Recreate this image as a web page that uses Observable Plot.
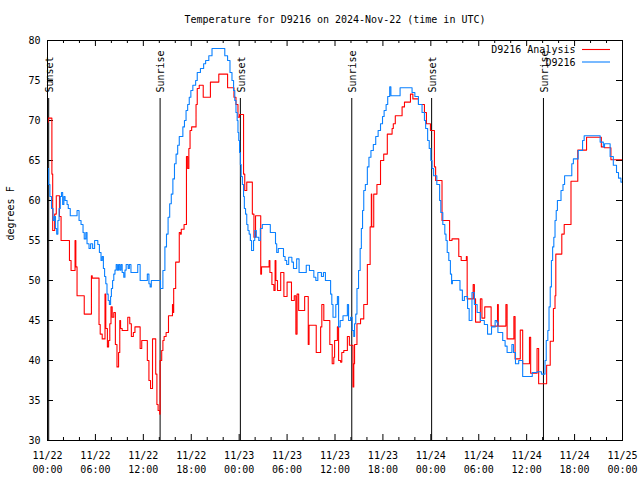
<!DOCTYPE html>
<html><head><meta charset="utf-8">
<script src="https://cdn.jsdelivr.net/npm/d3@7"></script>
<script src="https://cdn.jsdelivr.net/npm/@observablehq/plot@0.6"></script>
<style>body{margin:0;background:#fff}</style>
</head><body><div id="chart"></div>
<script>
const titleText = "Temperature for D9216 on 2024-Nov-22 (time in UTC)";
const yLabel = "degrees F";
const seriesNames = ["D9216 Analysis", "D9216"];
const seriesColors = ["#ff0000", "#0a80ff"];
const startUTC = Date.UTC(2024, 10, 22);
const spanHours = 72;
const yTicks = [30, 35, 40, 45, 50, 55, 60, 65, 70, 75, 80];
const sunHours = [0.15, 14.1, 24.15, 38.1, 48.1, 62.1];
const sunLabels = ["Sunset", "Sunrise", "Sunset", "Sunrise", "Sunset", "Sunrise"];

// [hours since 2024-11-22 00:00 UTC, degrees F]
const analysis = [[0,69.8],[0.1,70.3],[0.55,63.3],[0.65,56.25],[0.9,58.3],[1.1,60.6],[1.5,58],[1.7,55],[2.75,52.5],[2.95,51.25],[3.45,55],[3.55,51.7],[3.7,48.1],[4.6,45.8],[5.5,50.6],[5.6,50.3],[6.45,44.5],[6.6,43.3],[6.85,42.7],[7.2,48.3],[7.3,44],[7.5,41.7],[7.65,42.5],[7.8,44.6],[7.95,46.7],[8.1,45.4],[8.3,46],[8.5,42],[8.7,39.2],[8.9,41],[9.05,45],[9.15,44],[9.35,43.75],[10.05,45.4],[10.3,44.6],[10.5,43],[10.75,43.5],[10.95,44.2],[11.6,41.5],[11.8,42.5],[12.5,40],[12.7,37.5],[12.9,36.5],[13.15,42.7],[13.55,38.3],[13.7,34.5],[13.85,33.75],[14.05,33.3],[14.1,40],[14.3,41.25],[14.45,42.5],[14.6,43],[14.85,43.5],[15.15,45.6],[15.65,47],[15.75,46],[15.8,49],[16.05,52.3],[16.5,56],[16.65,55.8],[16.75,56.4],[17.1,57],[17.4,65.5],[17.55,64],[17.7,66.5],[17.85,68.75],[18.05,69.2],[18.6,72],[18.75,74],[19.0,74.4],[19.5,72.9],[20.4,74.8],[21.45,75.8],[22.55,74.1],[23.35,72.9],[23.6,72],[23.85,70.4],[24.05,70.75],[24.55,63.3],[24.7,61.25],[24.95,62.3],[25.65,58.3],[25.85,55.4],[26.05,58.1],[26.7,50.8],[26.8,51.7],[27.75,52.5],[27.85,51],[28.1,49.5],[28.35,48.75],[28.5,52.5],[28.6,50],[28.8,48.75],[29.2,51],[29.6,48],[30.0,49.8],[30.55,47.5],[30.9,48.1],[31.1,43.3],[31.25,48.3],[31.45,46.25],[32.2,48],[32.65,42],[32.75,44.4],[33.65,41],[34.2,44.2],[34.35,47],[34.6,45],[35.35,42],[35.65,39.6],[35.85,40.4],[35.95,42.5],[36.3,44.2],[36.45,40],[36.7,39.8],[36.85,41],[37.1,41.25],[37.55,43],[37.8,41.9],[38.25,36.7],[38.35,39.6],[38.45,42],[38.75,44.6],[39.2,45.2],[39.6,47],[40.05,52],[40.4,56.7],[40.55,60.8],[40.6,56.7],[40.85,60.8],[41.25,62],[41.7,65],[42.1,65.8],[42.55,68.3],[43.15,69],[43.3,69.6],[43.55,70.6],[44.4,71.7],[44.7,72.3],[45.45,73.3],[45.75,72.7],[46.45,72],[47.2,71],[47.45,69.6],[47.95,68.75],[48.45,64.2],[48.6,62.5],[49.4,57.5],[50.35,55],[50.65,55.2],[51.5,53],[51.8,52.5],[52.45,53],[52.55,47.7],[53.3,49.5],[53.45,47.7],[53.6,44.8],[54.2,47.7],[54.4,45.3],[54.75,46.7],[55.55,44.3],[56.35,47],[56.45,44.3],[57.4,47],[57.55,42.7],[58.4,45.5],[58.55,40.2],[59.2,43.8],[59.5,39.6],[60.35,42.9],[60.5,38.4],[61.3,41.5],[61.5,37.1],[62.5,39.4],[62.95,42.4],[63.35,46.5],[63.55,48.1],[63.65,53.3],[64.4,55.8],[64.7,57],[65.55,62.4],[66.4,66.3],[67.5,67.9],[69.35,66.7],[69.75,66.6],[70.55,65.1],[72,65.1]];

const observed = [[0,64],[0.15,62],[0.3,60.5],[0.5,59],[0.7,57.5],[0.85,58],[1.0,56.5],[1.15,55.8],[1.3,57.5],[1.45,59],[1.6,60.5],[1.75,61],[1.9,59.5],[2.05,60.5],[2.2,60],[2.45,59.5],[2.6,59],[2.85,58.1],[3.7,58.75],[3.95,57.5],[4.2,57],[4.45,56],[4.6,55.2],[4.8,56],[4.95,54.6],[5.2,54],[5.4,54.6],[5.65,54],[5.9,55],[6.3,54.5],[6.5,53.5],[6.7,52.5],[6.85,53],[7.0,51.5],[7.15,50.5],[7.3,49.6],[7.45,48.3],[7.6,47.5],[7.75,47],[7.9,48],[8.0,49],[8.15,50],[8.3,50.8],[8.45,51.3],[8.6,52],[8.75,51.3],[8.9,52],[9.05,51.3],[9.2,52],[9.35,51],[9.55,50.4],[9.7,51.3],[9.85,52],[10.1,51.5],[10.25,52],[10.45,51],[11.3,52],[11.6,50],[12.5,50.8],[12.7,49.6],[12.85,49.2],[13.0,50],[14.15,49],[14.45,51.25],[14.7,54.2],[14.9,55.8],[15.1,57.9],[15.3,59.6],[15.5,60.8],[15.7,62.7],[15.9,64.6],[16.1,65.8],[16.3,66.9],[16.5,68],[16.95,69.2],[17.15,70],[17.35,71.25],[17.55,72],[17.75,72.9],[17.95,73.75],[18.2,74.4],[18.55,75],[18.75,76],[19.15,76.5],[19.55,77.1],[19.8,77.5],[20.2,78.1],[20.6,79],[22.2,78.1],[22.55,77.5],[22.85,76],[23.1,75],[23.3,73.75],[23.45,72.5],[23.6,71],[23.75,70],[23.85,68.5],[23.95,67.5],[24.05,66],[24.15,64.5],[24.25,63],[24.4,62],[24.55,60.5],[24.65,59],[24.8,58.3],[24.95,57],[25.1,56.25],[25.25,55.8],[25.4,55],[25.55,53.75],[25.8,55],[25.95,56.25],[26.15,55.4],[26.45,55],[26.65,56.5],[26.9,57],[27.9,56],[28.55,54.6],[28.7,53.5],[28.9,54],[29.55,53],[29.75,52.5],[29.95,52],[30.2,52.9],[30.6,52.3],[30.8,51.5],[31.2,52.7],[31.5,51],[32.4,51.9],[32.8,51.25],[33.35,50.4],[33.6,50],[33.85,51],[34.3,50.5],[34.55,51],[34.8,50],[35.45,48.3],[35.6,47],[35.75,45.4],[36.1,47],[36.3,48],[36.45,44.2],[36.65,45],[37.0,45.6],[37.55,47],[37.7,45],[37.95,45.4],[38.15,43.75],[38.35,43],[38.45,44.6],[38.6,45.8],[38.75,49],[38.95,51.25],[39.15,54],[39.3,56.5],[39.45,58.75],[39.6,61.25],[39.8,62],[40.05,64.2],[40.25,65.4],[40.5,66.25],[40.8,67],[41.1,68],[41.4,68.75],[41.7,69.6],[41.95,70.5],[42.15,71.25],[42.4,72],[42.6,73],[42.85,74.2],[43.0,73.1],[44.15,74.1],[45.65,73.5],[46.0,73],[46.45,72],[46.9,71],[47.2,70],[47.35,69],[47.6,67.5],[47.8,66.5],[48.0,65],[48.15,64],[48.35,63.1],[48.75,62],[49.1,60],[49.25,58.5],[49.5,57],[49.75,55.8],[49.9,55],[50.05,53.5],[50.25,52.5],[50.45,50.8],[50.6,49.6],[50.7,50],[51.65,48.8],[51.95,47.5],[52.2,48],[52.6,46.5],[52.8,45],[53.15,48.5],[53.45,47],[53.8,46],[54.2,45],[54.7,44.5],[55.1,43.3],[55.6,44.2],[56.05,45],[56.25,44.8],[56.4,43.5],[57.0,42.5],[57.3,41.8],[57.55,41],[58.15,42],[58.35,41],[58.6,39.6],[59.0,40],[59.5,38],[60.7,38.5],[61.3,38.6],[61.85,38.3],[62.3,40],[62.45,42.5],[62.65,43.75],[62.8,46.7],[62.95,49.2],[63.1,52.5],[63.25,54.2],[63.4,55.4],[63.55,57.5],[63.7,58.75],[63.85,60],[64.3,61.25],[64.55,62],[64.75,63.1],[65.65,64.6],[65.85,65.2],[66.45,66.25],[67.0,67.5],[67.2,68.1],[69.2,67.3],[69.6,66.7],[69.75,67.1],[70.45,65.5],[70.85,64.4],[71.25,63.5],[71.5,62.8],[71.8,62.3],[72,62.3]];

const toDate = h => new Date(startUTC + h * 3600e3);
const analysisRows = analysis.map(([h, v]) => ({t: toDate(h), v}));
const observedRows = observed.map(([h, v]) => ({t: toDate(h), v}));
const sun = sunHours.map((h, i) => ({t: toDate(h), label: sunLabels[i]}));

const x0 = toDate(0), x1 = toDate(spanHours);
const major = d3.utcHour.range(x0, new Date(+x1 + 1), 6);
const minor = d3.utcHour.range(x0, new Date(+x1 + 1), 2).filter(d => d.getUTCHours() % 6 !== 0);

const W = 640, H = 480, mL = 47, mR = 18, mT = 40, mB = 40;
const fw = W - mL - mR, fh = H - mT - mB;
const font = "'DejaVu Sans Mono', monospace";

const chart = Plot.plot({
  width: W, height: H,
  marginLeft: mL, marginRight: mR, marginTop: mT, marginBottom: mB,
  style: {fontFamily: font, fontSize: "10px", color: "black", background: "white"},
  x: {type: "utc", domain: [x0, x1]},
  y: {domain: [30, 80]},
  marks: [
    Plot.ruleX(sun, {x: "t", insetTop: 58, stroke: "black", strokeWidth: 1}),
    Plot.text(sun, {x: "t", text: "label", frameAnchor: "top", dy: 52, dx: 1, rotate: -90, textAnchor: "start", lineAnchor: "middle", fill: "black", fontSize: 10}),
    Plot.ruleX(major, {x: d => d, insetTop: fh - 6, stroke: "black"}),
    Plot.ruleX(major, {x: d => d, insetBottom: fh - 6, stroke: "black"}),
    Plot.ruleX(minor, {x: d => d, insetTop: fh - 3, stroke: "black"}),
    Plot.ruleX(minor, {x: d => d, insetBottom: fh - 3, stroke: "black"}),
    Plot.ruleY(yTicks, {y: d => d, insetRight: fw - 6, stroke: "black"}),
    Plot.ruleY(yTicks, {y: d => d, insetLeft: fw - 6, stroke: "black"}),
    Plot.axisX(major, {tickSize: 0, tickPadding: 11, tickFormat: d3.utcFormat("%m/%d"), label: null, fontSize: 10}),
    Plot.axisX(major, {tickSize: 0, tickPadding: 25, tickFormat: d3.utcFormat("%H:%M"), label: null, fontSize: 10}),
    Plot.axisY(yTicks, {tickSize: 0, tickPadding: 7, label: null, fontSize: 10}),
    Plot.line(analysisRows, {x: "t", y: "v", stroke: seriesColors[0], strokeWidth: 1.1, curve: "step-after"}),
    Plot.line(observedRows, {x: "t", y: "v", stroke: seriesColors[1], strokeWidth: 1.1, curve: "step-after"}),
    Plot.frame({stroke: "black"}),
    Plot.text([titleText], {text: d => d, frameAnchor: "top", lineAnchor: "middle", dy: -21, fontSize: 10}),
    Plot.text([yLabel], {text: d => d, frameAnchor: "left", lineAnchor: "middle", dx: -37, rotate: -90, fontSize: 10}),
    Plot.text([seriesNames[0]], {text: d => d, frameAnchor: "top-right", textAnchor: "end", lineAnchor: "middle", dx: -47, dy: 9.5, fontSize: 10}),
    Plot.text([seriesNames[1]], {text: d => d, frameAnchor: "top-right", textAnchor: "end", lineAnchor: "middle", dx: -47, dy: 22, fontSize: 10})
  ]
});

const svg = d3.select(chart);
seriesColors.forEach((c, i) => {
  svg.append("line")
    .attr("x1", W - mR - 40).attr("x2", W - mR - 12)
    .attr("y1", mT + 9.5 + i * 12.5).attr("y2", mT + 9.5 + i * 12.5)
    .attr("stroke", c).attr("stroke-width", 1.1);
});
document.getElementById("chart").appendChild(chart);
</script>
</body></html>
